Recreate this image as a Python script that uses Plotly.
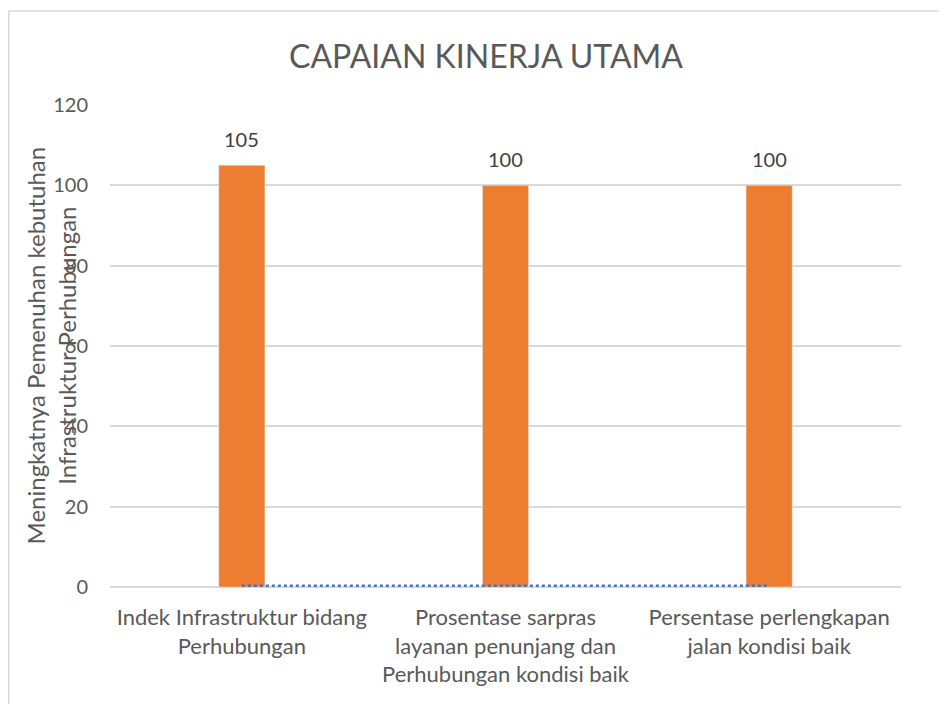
import plotly.graph_objects as go

categories = [
    "Indek Infrastruktur bidang<br>Perhubungan",
    "Prosentase sarpras<br>layanan penunjang dan<br>Perhubungan kondisi baik",
    "Persentase perlengkapan<br>jalan kondisi baik",
]
capaian = [105, 100, 100]
garis_dasar = [0.3, 0.3, 0.3]

FONT = "Lato"
GRAY = "#595959"

# plot area in figure pixels
L, R, T, B = 102, 893, 97, 579
W, H = 947, 704
PW, PH = R - L, B - T

fig = go.Figure()

fig.add_trace(go.Bar(
    x=categories,
    y=capaian,
    marker_color="#ED7D31",
    showlegend=False,
    hoverinfo="x+y",
))

fig.add_trace(go.Scatter(
    x=categories,
    y=garis_dasar,
    mode="lines",
    line=dict(color="#4472C4", width=2.5, dash="dot"),
    showlegend=False,
))

# data labels above the bars
for cat, val in zip(categories, capaian):
    fig.add_annotation(
        x=cat, y=val, text=str(val),
        showarrow=False, yanchor="bottom", yshift=12,
        font=dict(size=20, color="#404040", family=FONT),
    )

fig.add_annotation(
    text="Meningkatnya Pemenuhan kebutuhan<br>Infrastruktur Perhubungan",
    xref="paper", yref="paper",
    x=(42.5 - L) / PW, y=0.5,
    xanchor="center", yanchor="middle",
    textangle=-90,
    showarrow=False,
    font=dict(size=24, color=GRAY, family=FONT),
)

fig.update_layout(
    width=W,
    height=H,
    paper_bgcolor="white",
    plot_bgcolor="white",
    margin=dict(l=L, r=W - R, t=T, b=H - B),
    bargap=0.825,
    font=dict(family=FONT, color=GRAY, size=20),
    title=dict(
        text="CAPAIAN KINERJA UTAMA",
        x=(478 - L) / PW, xref="paper", xanchor="center",
        y=1 - 49 / H, yref="container", yanchor="middle",
        font=dict(size=32, color=GRAY, family=FONT),
    ),
    xaxis=dict(
        showgrid=False,
        showline=False,
        tickfont=dict(size=22, color=GRAY),
        ticklabelstandoff=15,
    ),
    yaxis=dict(
        range=[0, 120],
        dtick=20,
        showgrid=True,
        gridcolor="#D9D9D9",
        gridwidth=1.5,
        zeroline=True,
        zerolinecolor="#D9D9D9",
        zerolinewidth=1.5,
        showline=False,
        tickfont=dict(size=20, color=GRAY),
        ticklabelstandoff=21,
    ),
    shapes=[dict(
        type="rect", xref="paper", yref="paper",
        x0=(0.75 - L) / PW, x1=(960 - L) / PW,
        y0=(B - 720) / PH, y1=(B - 3) / PH,
        line=dict(color="#D9D9D9", width=1.5),
        fillcolor="rgba(0,0,0,0)",
        layer="below",
    )],
)

fig.write_html("out.html")
